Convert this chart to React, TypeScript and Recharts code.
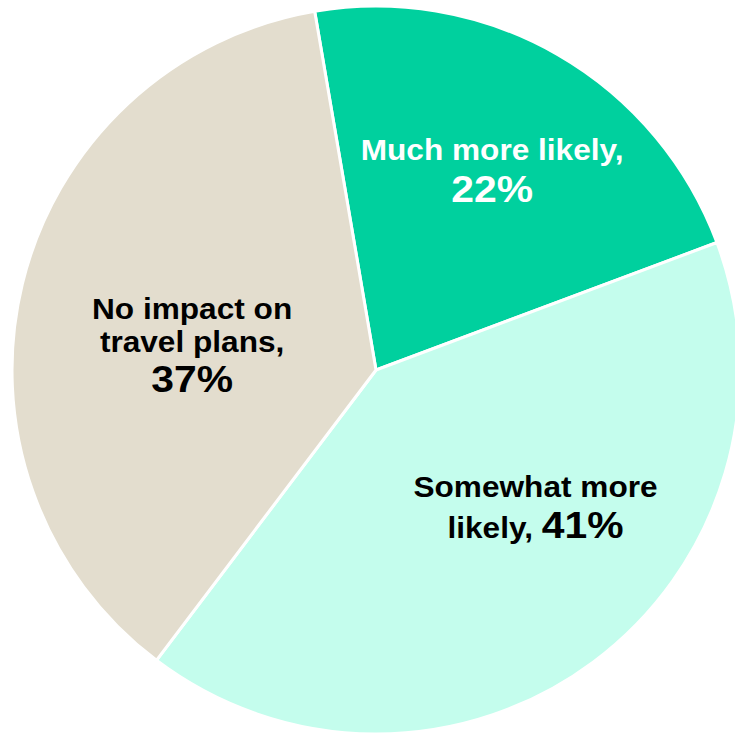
import React from "react";
import { PieChart, Pie, Cell } from "recharts";

const categories = ["Much more likely", "Somewhat more likely", "No impact on travel plans"];
const values = [22, 41, 37];
const colors = ["#00D09E", "#C4FDED", "#E3DDCE"];
const textColors = ["#FFFFFF", "#000000", "#000000"];

const data = categories.map((name, i) => ({ name, value: values[i] }));

const RAD = Math.PI / 180;
const FONT = "'Liberation Sans', Arial, Helvetica, sans-serif";
const SMALL = 29;
const BIG = 37.5;
const SCALE_X = 1.09;

// label layout: radius fraction along mid-angle, extra offset
const layouts = [
  { frac: 0.64, dx: 0, dy: 0 },
  { frac: 0.6, dx: 29, dy: -35 },
  { frac: 0.52, dx: 0, dy: 20 },
];

function renderLabel(props: any) {
  const { cx, cy, midAngle, outerRadius, index } = props;
  const L = layouts[index];
  const r = outerRadius * L.frac;
  const x = cx + r * Math.cos(-midAngle * RAD) + L.dx;
  const y = cy + r * Math.sin(-midAngle * RAD) + L.dy;
  const fill = textColors[index];
  const pct = `${values[index]}%`;
  const common = { textAnchor: "middle" as const, fill, fontFamily: FONT, fontWeight: 700 };
  const tf = `translate(${x} ${y}) scale(${SCALE_X} 1)`;
  if (index === 0) {
    return (
      <g key="l0" transform={tf}>
        <text x={0} y={-8} fontSize={SMALL} {...common}>Much more likely,</text>
        <text x={0} y={34} fontSize={BIG} {...common}>{pct}</text>
      </g>
    );
  }
  if (index === 1) {
    return (
      <g key="l1" transform={tf}>
        <text x={0} y={-13} fontSize={SMALL} {...common}>Somewhat more</text>
        <text x={0} y={28} fontSize={SMALL} {...common}>
          likely, <tspan fontSize={BIG}>{pct}</tspan>
        </text>
      </g>
    );
  }
  return (
    <g key="l2" transform={tf}>
      <text x={0} y={-26} fontSize={SMALL} {...common}>No impact on</text>
      <text x={0} y={7} fontSize={SMALL} {...common}>travel plans,</text>
      <text x={0} y={47} fontSize={BIG} {...common}>{pct}</text>
    </g>
  );
}

export default function App() {
  return (
    <div style={{ position: "absolute", left: 0, top: 0, width: 735, height: 736, background: "#fff" }}>
      <PieChart width={735} height={736} margin={{ top: 0, right: 0, bottom: 0, left: 0 }}>
        <Pie
          data={data}
          dataKey="value"
          nameKey="name"
          cx={376}
          cy={370}
          outerRadius={364}
          innerRadius={0}
          startAngle={99.7}
          endAngle={-260.3}
          stroke="#FFFFFF"
          strokeWidth={3}
          label={renderLabel}
          labelLine={false}
          isAnimationActive={false}
        >
          {data.map((d, i) => (
            <Cell key={d.name} fill={colors[i]} />
          ))}
        </Pie>
      </PieChart>
    </div>
  );
}
